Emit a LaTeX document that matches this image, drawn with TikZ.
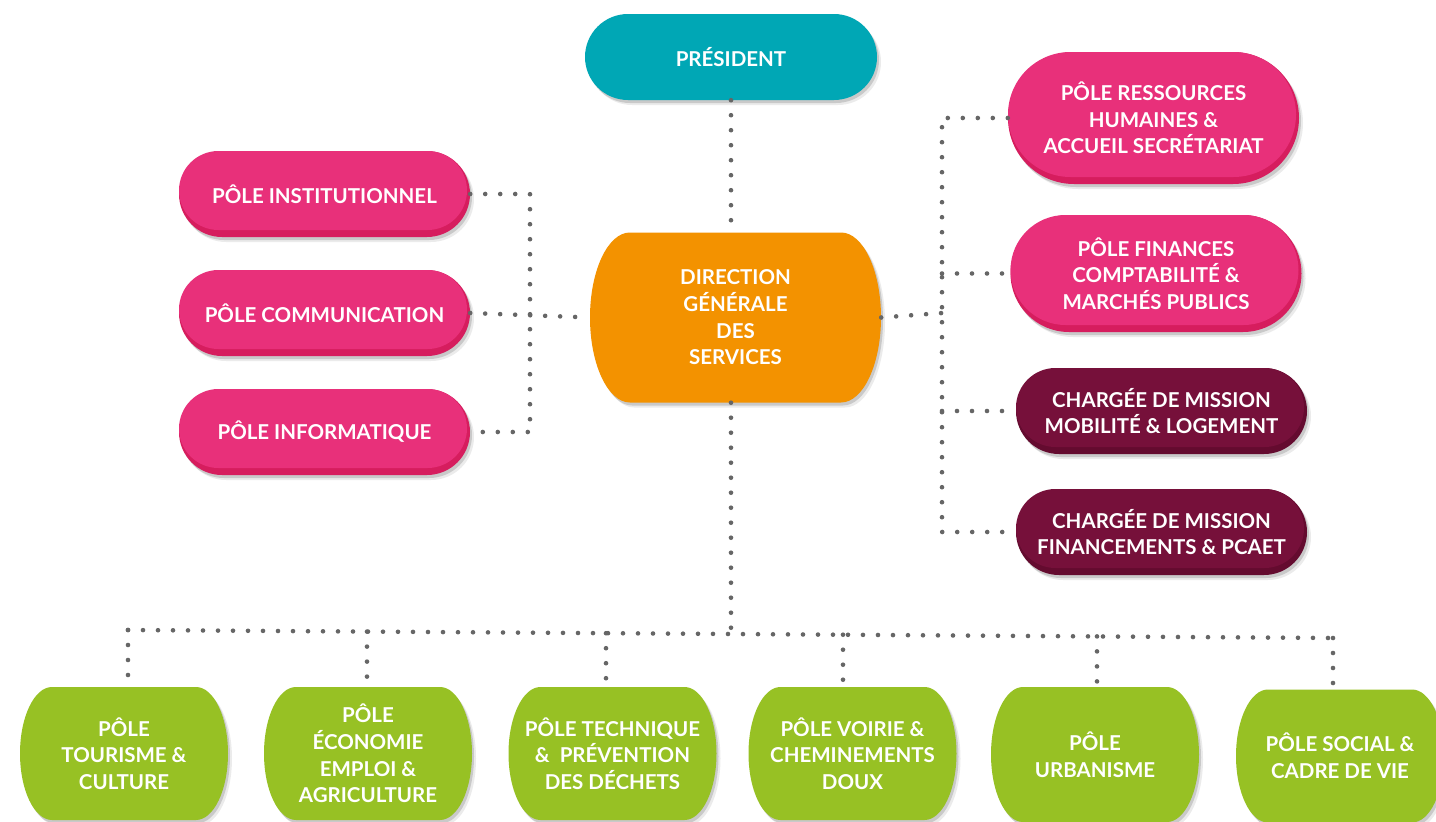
\documentclass[tikz,border=0pt]{standalone}
\usepackage{fontspec}
\setmainfont{Lato}
\usetikzlibrary{shadows}
\definecolor{tealc}{HTML}{00A7B5}
\definecolor{pinkl}{HTML}{E8307A}
\definecolor{pinkd}{HTML}{D61D5E}
\definecolor{winel}{HTML}{76103A}
\definecolor{wined}{HTML}{640B2F}
\definecolor{orangec}{HTML}{F39200}
\definecolor{greenc}{HTML}{97C124}
\definecolor{dotgray}{HTML}{666666}
\tikzset{
  dots/.style={draw=dotgray, line width=4.6pt, line cap=round, dash pattern=on 0pt off 15pt},
  lbl/.style={text=white, font=\bfseries\fontsize{20.5}{26.7}\selectfont, align=center},
  shad/.style={drop shadow={shadow xshift=2pt, shadow yshift=-3pt, opacity=0.14, fill=black},
               drop shadow={shadow xshift=4pt, shadow yshift=-5pt, opacity=0.08, fill=black}},
}
% stadium path: left x, top y, width, height
\newcommand\stad[4]{({(#1)+(#4)/2}, {#2}) -- ({(#1)+(#3)-(#4)/2}, {#2})
    arc[start angle=-90, end angle=90, radius={(#4)/2}]
    -- ({(#1)+(#4)/2}, {(#2)+(#4)})
    arc[start angle=90, end angle=270, radius={(#4)/2}] -- cycle}
% pill node: name, cx, cy, w, h, light, dark, text
\newcommand\pillbox[8]{%
  \fill[#7, shad] \stad{#2-#4/2}{#3-#5/2}{#4}{#5};
  \fill[#6] \stad{#2-#4/2}{#3-#5/2}{#4-3}{#5-7};
  \node[lbl, minimum width=#4pt, minimum height=#5pt, inner sep=0pt] (#1) at (#2,#3) {#8};}
% box with elliptic sides
\newcommand\ebox[8]{%
  \fill[#7, shad] (#2-#4/2+#6, #3-#5/2) -- (#2+#4/2-#6, #3-#5/2)
    arc[start angle=-90, end angle=90, x radius=#6, y radius=#5/2]
    -- (#2-#4/2+#6, #3+#5/2)
    arc[start angle=90, end angle=270, x radius=#6, y radius=#5/2] -- cycle;
  \node[lbl, minimum width=#4pt, minimum height=#5pt, inner sep=0pt] (#1) at (#2,#3) {#8};}
\begin{document}
\begin{tikzpicture}[x=1pt, y=-1pt]
\fill[white] (0,0) rectangle (1436,822);
\useasboundingbox (0,0) rectangle (1436,822);

\coordinate (lj) at (530,313);
\coordinate (rj) at (942,313);
\coordinate (bj) at (731,633);

% nodes
\fill[tealc, shad] \stad{585}{14}{292}{86};
\node[lbl, minimum width=292pt, minimum height=86pt, inner sep=0pt] (pres) at (731,57) {PRÉSIDENT};

\pillbox{inst}{324.5}{194}{291}{86}{pinkl}{pinkd}{PÔLE INSTITUTIONNEL}
\pillbox{comm}{324.5}{313}{291}{86}{pinkl}{pinkd}{PÔLE COMMUNICATION}
\pillbox{info}{324.5}{432}{291}{86}{pinkl}{pinkd}{PÔLE INFORMATIQUE}

\ebox{dgs}{735.5}{317.5}{291}{170}{40}{orangec}{DIRECTION\\GÉNÉRALE\\DES\\SERVICES}

\pillbox{rh}{1153.5}{118}{291}{132}{pinkl}{pinkd}{PÔLE RESSOURCES\\HUMAINES \&\\ACCUEIL SECRÉTARIAT}
\pillbox{fcm}{1156}{273.5}{291}{117}{pinkl}{pinkd}{PÔLE FINANCES\\COMPTABILITÉ \&\\MARCHÉS PUBLICS}
\pillbox{mob}{1161.5}{411}{291}{86}{winel}{wined}{CHARGÉE DE MISSION\\MOBILITÉ \& LOGEMENT}
\pillbox{pcaet}{1161.5}{532}{291}{86}{winel}{wined}{CHARGÉE DE MISSION\\FINANCEMENTS \& PCAET}

\ebox{tour}{124}{753.5}{208}{133}{32}{greenc}{PÔLE\\TOURISME \&\\CULTURE}
\ebox{eco}{368}{753.5}{208}{133}{32}{greenc}{PÔLE\\ÉCONOMIE\\EMPLOI \&\\AGRICULTURE}
\ebox{tech}{612.5}{753.5}{208}{133}{32}{greenc}{PÔLE TECHNIQUE\\\&\ \ PRÉVENTION\\DES DÉCHETS}
\ebox{voir}{852.5}{753.5}{208}{133}{32}{greenc}{PÔLE VOIRIE \&\\CHEMINEMENTS\\DOUX}
\ebox{urb}{1095}{754.5}{208}{135}{32}{greenc}{PÔLE\\URBANISME}
\ebox{soc}{1340}{756}{208}{133}{32}{greenc}{PÔLE SOCIAL \&\\CADRE DE VIE}

% connectors
\draw[dots] (pres.south) -- (pres.south |- dgs.north);
\draw[dots] (inst.east) -- (inst.east -| lj) -- (info.east -| lj) -- (info.east);
\draw[dots] (comm.east) -- (dgs.west);
\draw[dots] (dgs.east) -- (rj);
\draw[dots] (rh.west) -- (rh.west -| rj) -- (pcaet.west -| rj) -- (pcaet.west);
\draw[dots] (fcm.west -| rj) -- (fcm.west);
\draw[dots] (mob.west -| rj) -- (mob.west);
\draw[dots] (pres.south |- dgs.south) -- (bj);
\draw[dots] (128,630) -- (1333,638);
\draw[dots] ([xshift=4pt]tour.north |- 0,630) -- ([xshift=4pt,yshift=8pt]tour.north);
\draw[dots] ([xshift=-1pt]eco.north |- 0,631.6) -- ([xshift=-1pt,yshift=8pt]eco.north);
\draw[dots] ([xshift=-6.5pt]tech.north |- 0,633.2) -- ([xshift=-6.5pt,yshift=6pt]tech.north);
\draw[dots] ([xshift=-9.5pt]voir.north |- 0,634.7) -- ([xshift=-9.5pt,yshift=6pt]voir.north);
\draw[dots] ([xshift=2pt]urb.north |- 0,636.4) -- ([xshift=2pt,yshift=4pt]urb.north);
\draw[dots] ([xshift=-7pt]soc.north |- 0,638) -- ([xshift=-7pt,yshift=4pt]soc.north);
\end{tikzpicture}
\end{document}
